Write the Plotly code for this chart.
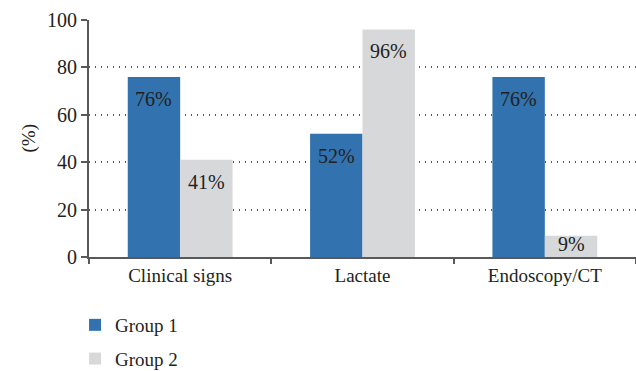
import plotly.graph_objects as go

categories = ["Clinical signs", "Lactate", "Endoscopy/CT"]
group1 = [76, 52, 76]
group2 = [41, 96, 9]
series_names = ["Group 1", "Group 2"]
y_ticks = [0, 20, 40, 60, 80, 100]

FONT = "Liberation Serif"
TXT = "#231F20"
AX = "#58595B"
PLOT_W = 636 - 89
PLOT_H = 371 - 20 - 114
BAR_HALF = PLOT_W / 3 * (1 - 0.425) / 4

fig = go.Figure()
for name, vals, color, grp in [(series_names[0], group1, "#3272AE", "g1"),
                               (series_names[1], group2, "#D7D8DA", "g2")]:
    fig.add_trace(go.Bar(
        x=categories, y=vals, name=name, marker_color=color,
        marker_line_width=0, legendgroup=grp,
    ))

for shift, vals in [(-BAR_HALF, group1), (BAR_HALF, group2)]:
    for c, v in zip(categories, vals):
        if v >= 15:
            fig.add_annotation(x=c, y=v, text=f"{v}%", showarrow=False,
                               xshift=shift, yshift=-9, yanchor="top",
                               font=dict(family=FONT, size=20, color=TXT))
        else:
            fig.add_annotation(x=c, y=0, text=f"{v}%", showarrow=False,
                               xshift=shift, yshift=0, yanchor="bottom",
                               font=dict(family=FONT, size=20, color=TXT))

fig.add_annotation(xref="paper", yref="paper", x=(15 - 89) / PLOT_W, y=0.5,
                   text="(%)", textangle=-90, showarrow=False,
                   font=dict(family=FONT, size=19, color=TXT))

fig.update_layout(
    width=636, height=371,
    margin=dict(l=89, r=0, t=20, b=114, autoexpand=False),
    paper_bgcolor="white", plot_bgcolor="white",
    barmode="group", bargap=0.425, bargroupgap=0,
    font=dict(family=FONT, size=19, color=TXT),
    showlegend=True,
    legend=dict(
        orientation="v", xref="container", yref="container",
        x=0.118, y=1 - 306 / 371, xanchor="left", yanchor="top",
        font=dict(family=FONT, size=19, color=TXT),
        tracegroupgap=6, traceorder="grouped",
        itemclick=False, bgcolor="rgba(0,0,0,0)",
    ),
    xaxis=dict(
        range=[-0.5, 2.5], showline=True, linecolor=AX, linewidth=2,
        ticks="outside", tickson="boundaries", ticklen=5, tickcolor=AX,
        tickwidth=2, showgrid=False, automargin=False,
        tickfont=dict(family=FONT, size=19, color=TXT),
    ),
    yaxis=dict(
        range=[0, 100], tickvals=y_ticks, showline=True, linecolor=AX, linewidth=2,
        ticks="outside", ticklen=6, tickcolor=AX, tickwidth=2,
        showgrid=True, gridcolor=AX, griddash="1px,5px", gridwidth=1.5,
        zeroline=False, automargin=False,
        tickfont=dict(family=FONT, size=20, color=TXT),
    ),
)

fig.write_html("out.html")
